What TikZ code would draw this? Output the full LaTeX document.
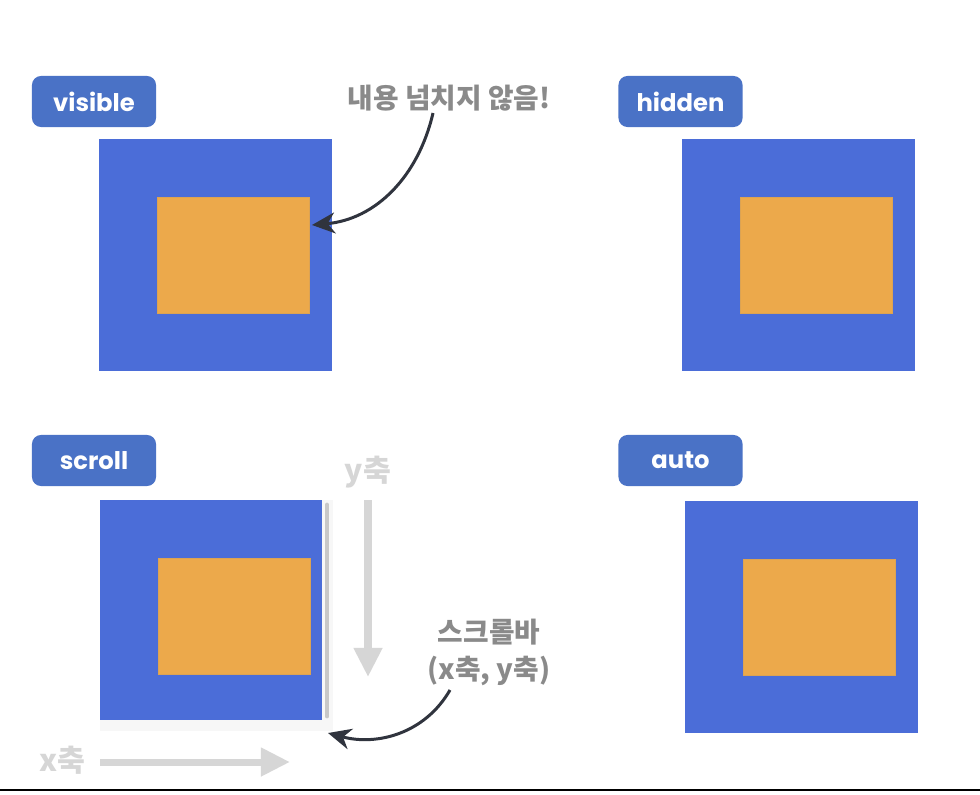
\documentclass[tikz,border=0pt]{standalone}
\usepackage{fontspec}
\setsansfont{Poppins}
\newfontfamily\kr{Noto Sans CJK KR}
\usetikzlibrary{arrows.meta,positioning}
\definecolor{boxblue}{HTML}{4B6DD8}
\definecolor{tagblue}{HTML}{4A72C6}
\definecolor{inorange}{HTML}{ECA94B}
\definecolor{notegray}{HTML}{8A8A8A}
\definecolor{axisgray}{HTML}{D6D6D6}
\definecolor{barcol}{HTML}{C8C8C8}
\definecolor{trackcol}{HTML}{F7F7F7}
\definecolor{pointer}{HTML}{30343E}

\begin{document}
\begin{tikzpicture}[x=0.01cm, y=0.01cm,
    tag/.style={rectangle, rounded corners=0.09cm, fill=tagblue, text=white,
                minimum width=1.24cm, minimum height=0.51cm, inner sep=0pt,
                font=\sffamily\bfseries\fontsize{6.9}{9}\selectfont},
    outer/.style={rectangle, fill=boxblue, minimum width=2.33cm,
                  minimum height=2.32cm, inner sep=0pt},
    inner/.style={rectangle, fill=inorange, draw=inorange!85!gray, line width=0.2pt,
                  minimum width=1.52cm, minimum height=1.16cm, inner sep=0pt},
    note/.style={text=notegray, font=\kr\bfseries\fontsize{7.9}{10.5}\selectfont,
                 align=center, inner sep=1pt},
    axis/.style={text=axisgray, font=\kr\bfseries\fontsize{8.6}{10}\selectfont, inner sep=0pt},
    ptr/.style={draw=pointer, line width=0.85pt, -{Stealth[length=2.3mm, width=2.1mm]}},
    big/.style={draw=axisgray, line width=2pt, -{Triangle[length=2.9mm, width=2.7mm]}},
  ]
  \useasboundingbox (0,0) rectangle (980,-794);
  \fill[white] (0,0) rectangle (980,-794);

  % visible
  \node[tag] (tvis) at (94,-101.5) {visible};
  \node[outer] (ovis) at (215.5,-255) {};
  \node[inner] (ivis) at (233,-255) {};
  \node[note] (nvis) at (449,-98) {내용 넘치지 않음!};
  \coordinate (vtail) at (433,-113);
  \coordinate (vtip) at (312,-225);
  \draw[ptr] (vtail) to[out=-103, in=5] (vtip);

  % hidden
  \node[tag] (thid) at (680.5,-101.5) {hidden};
  \node[outer] (ohid) at (798.5,-255) {};
  \node[inner] (ihid) at (816,-255) {};

  % scroll
  \node[tag] (tscr) at (94,-460.5) {scroll};
  \fill[trackcol] (100,-500) rectangle (333,-731);
  \node[outer, minimum width=2.22cm, minimum height=2.20cm] (oscr) at (211,-610) {};
  \node[inner] (iscr) at (234,-616) {};
  \draw[barcol, line width=1.4pt, line cap=round] (327,-505) -- (327,-716);
  \node[axis] (ylab) at (368,-472) {y축};
  \node[axis] (xlab) at (62,-760) {x축};
  \coordinate (ya) at (368,-500);
  \coordinate (yb) at (368,-677);
  \coordinate (xa) at (100,-762);
  \coordinate (xb) at (290,-762);
  \draw[big] (ya) -- (yb);
  \draw[big] (xa) -- (xb);
  \node[note] (nscr) at (489,-652) {스크롤바\\(x축, y축)};
  \coordinate (stail) at (450,-690);
  \coordinate (stip) at (328,-733);
  \draw[ptr] (stail) to[out=-120, in=-15] (stip);

  % auto
  \node[tag] (taut) at (680.5,-460.5) {auto};
  \node[outer] (oaut) at (801.5,-617) {};
  \node[inner] (iaut) at (819,-617) {};

  \draw[black, line width=0.6pt] (0,-790) -- (980,-790);
\end{tikzpicture}
\end{document}
